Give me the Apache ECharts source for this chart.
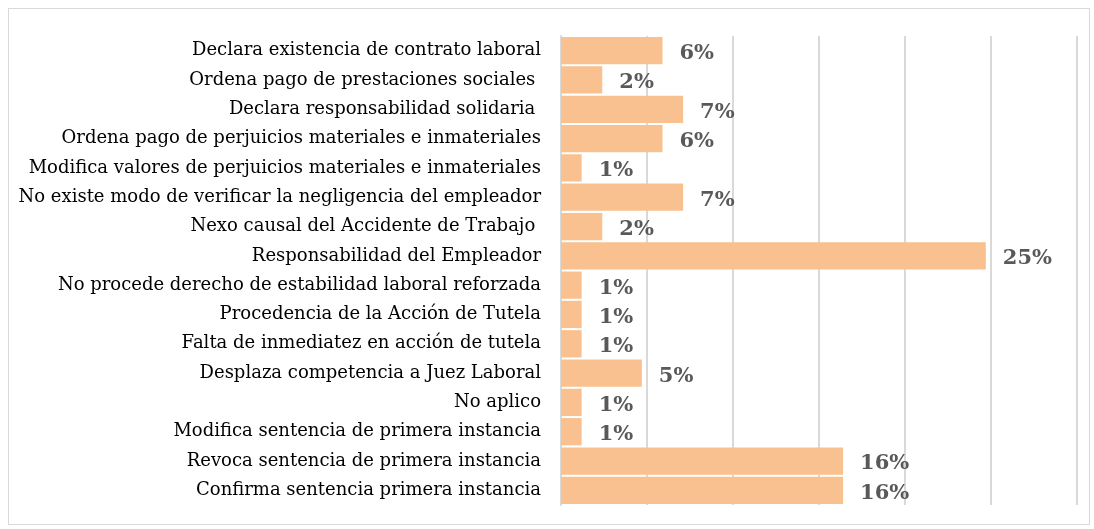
<!DOCTYPE html>
<html>
<head>
<meta charset="utf-8">
<script src="https://cdn.jsdelivr.net/npm/echarts@6/dist/echarts.min.js"></script>
<style>
    html, body { margin: 0; padding: 0; background: #fff; }
    #frame { position: absolute; left: 8px; top: 8px; width: 1082px; height: 517px; border: 1px solid #d9d9d9; box-sizing: border-box; }
    #chart { position: absolute; left: 0; top: 0; width: 1094px; height: 529px; }
</style>
</head>
<body>
<div id="frame"></div>
<div id="chart"></div>
<script>
// categories top to bottom
var categories = [
    'Declara existencia de contrato laboral',
    'Ordena pago de prestaciones sociales ',
    'Declara responsabilidad solidaria ',
    'Ordena pago de perjuicios materiales e inmateriales',
    'Modifica valores de perjuicios materiales e inmateriales',
    'No existe modo de verificar la negligencia del empleador',
    'Nexo causal del Accidente de Trabajo ',
    'Responsabilidad del Empleador',
    'No procede derecho de estabilidad laboral reforzada',
    'Procedencia de la Acción de Tutela',
    'Falta de inmediatez en acción de tutela',
    'Desplaza competencia a Juez Laboral',
    'No aplico',
    'Modifica sentencia de primera instancia',
    'Revoca sentencia de primera instancia',
    'Confirma sentencia primera instancia'
];
// percentage values (bar lengths), same order
var values = [5.9, 2.4, 7.1, 5.9, 1.2, 7.1, 2.4, 24.7, 1.2, 1.2, 1.2, 4.7, 1.2, 1.2, 16.4, 16.4];

var myChart = echarts.init(document.getElementById('chart'));
var option = {
    animation: false,
    grid: {
        left: 561,
        right: 17,
        top: 36,
        bottom: 24,
        containLabel: false
    },
    xAxis: {
        type: 'value',
        min: 0,
        max: 30,
        interval: 5,
        axisLabel: { show: false },
        axisLine: { show: false },
        axisTick: { show: false },
        splitLine: { lineStyle: { color: '#d9d9d9', width: 2 } }
    },
    yAxis: {
        type: 'category',
        inverse: true,
        data: categories,
        axisTick: { show: false },
        axisLine: { lineStyle: { color: '#d9d9d9', width: 2 } },
        axisLabel: {
            color: '#000',
            fontFamily: 'DejaVu Serif',
            fontSize: 18,
            margin: 20
        }
    },
    series: [{
        type: 'bar',
        data: values,
        barCategoryGap: '7%',
        itemStyle: { color: '#f9c18f' },
        label: {
            show: true,
            position: 'right',
            distance: 17,
            offset: [0, 3],
            color: '#595959',
            fontFamily: 'DejaVu Serif',
            fontWeight: 'bold',
            fontSize: 21,
            formatter: function (p) {
                return Math.round(p.value) + '%';
            }
        }
    }]
};
myChart.setOption(option);
</script>
</body>
</html>
